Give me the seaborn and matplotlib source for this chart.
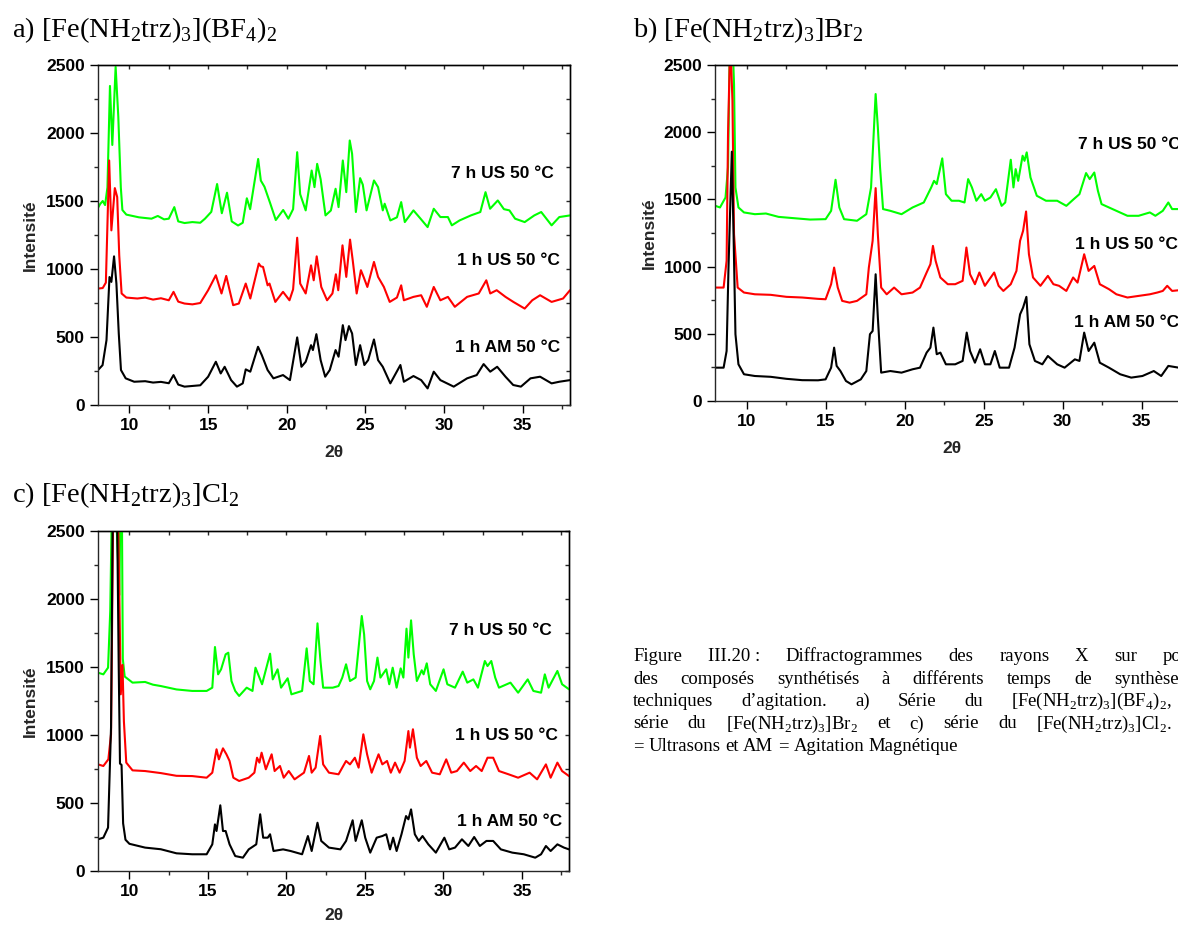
import numpy as np
import pandas as pd
import matplotlib
matplotlib.use("Agg")
import matplotlib.pyplot as plt
from matplotlib.ticker import MultipleLocator
import seaborn as sns

# ------------------------------
# DATA
# ------------------------------

series_names = ["7 h US 50 °C", "1 h US 50 °C", "1 h AM 50 °C"]
series_colors = ["#00ff00", "#ff0000", "#000000"]

# a) BF4
a_x_7h = [8.0, 8.15, 8.3, 8.45, 8.6, 8.76, 8.91, 9.12, 9.29, 9.45, 9.55, 9.8, 10.2, 10.6, 11.0, 11.4, 11.8, 12.2, 12.5,
          12.85, 13.1, 13.5, 14.0, 14.5, 14.8, 15.2, 15.57, 15.87, 16.2, 16.5, 16.9, 17.2, 17.46, 17.67, 18.18, 18.35,
          18.58, 18.94, 19.3, 19.77, 20.1, 20.4, 20.66, 20.85, 21.2, 21.58, 21.76, 21.93, 22.15, 22.46, 22.8, 23.1,
          23.29, 23.56, 23.78, 24.0, 24.15, 24.39, 24.66, 24.83, 25.07, 25.54, 25.8, 26.1, 26.22, 26.58, 27.0, 27.27,
          27.5, 28.05, 28.5, 28.95, 29.34, 29.76, 30.24, 30.49, 30.98, 31.7, 32.3, 32.63, 32.92, 33.41, 33.8, 34.15,
          34.51, 35.12, 35.73, 36.17, 36.83, 37.32, 38.0]
a_y_7h = [1450, 1480, 1500, 1470, 1600, 2346, 1912, 2487, 2120, 1600, 1434, 1400, 1390, 1380, 1375, 1370, 1390, 1365,
          1370, 1455, 1350, 1338, 1345, 1340, 1370, 1420, 1625, 1410, 1561, 1350, 1320, 1340, 1520, 1440, 1809, 1650,
          1605, 1485, 1360, 1434, 1370, 1440, 1859, 1550, 1431, 1724, 1602, 1773, 1660, 1394, 1430, 1590, 1455, 1798,
          1565, 1945, 1847, 1419, 1668, 1620, 1431, 1651, 1602, 1431, 1480, 1357, 1380, 1492, 1345, 1431, 1370, 1308,
          1443, 1382, 1382, 1321, 1357, 1394, 1419, 1565, 1443, 1504, 1440, 1431, 1370, 1345, 1394, 1419, 1321, 1382,
          1394]

a_x_1h = [8.0, 8.3, 8.5, 8.71, 8.85, 9.07, 9.22, 9.35, 9.5, 9.8, 10.5, 11.0, 11.5, 12.0, 12.5, 12.8, 13.1, 13.5, 14.0,
          14.5, 15.0, 15.49, 15.85, 16.15, 16.59, 16.95, 17.39, 17.68, 18.22, 18.34, 18.49, 18.78, 18.9, 19.27, 19.76,
          20.17, 20.4, 20.66, 20.85, 21.2, 21.54, 21.71, 21.9, 22.19, 22.56, 22.9, 23.12, 23.27, 23.54, 23.78, 24.02,
          24.19, 24.44, 24.71, 24.88, 25.12, 25.54, 25.8, 26.17, 26.54, 27.0, 27.27, 27.44, 28.05, 28.54, 28.9, 29.34,
          29.76, 30.24, 30.68, 31.46, 32.2, 32.68, 32.93, 33.34, 33.9, 34.4, 35.12, 35.6, 36.1, 36.83, 37.56, 38.0]
a_y_1h = [856, 860, 900, 1798, 1284, 1595, 1529, 1100, 820, 790, 783, 790, 775, 785, 770, 832, 760, 746, 740, 750, 844,
          954, 820, 949, 734, 746, 893, 783, 1040, 1020, 1015, 880, 893, 758, 832, 770, 850, 1230, 893, 820, 1027, 917,
          1093, 868, 770, 820, 961, 844, 1174, 942, 1216, 1064, 820, 991, 942, 868, 1052, 942, 868, 758, 790, 880, 770,
          795, 807, 722, 868, 770, 795, 722, 795, 820, 917, 820, 844, 795, 758, 709, 770, 807, 758, 783, 844]

a_x_am = [8.0, 8.29, 8.54, 8.73, 8.85, 9.02, 9.17, 9.32, 9.46, 9.76, 10.3, 11.0, 11.5, 12.0, 12.5, 12.8, 13.1, 13.5,
          14.0, 14.5, 15.0, 15.49, 15.8, 16.05, 16.46, 16.83, 17.2, 17.39, 17.68, 18.17, 18.41, 18.78, 19.15, 19.76,
          20.2, 20.66, 20.93, 21.2, 21.54, 21.66, 21.88, 22.15, 22.44, 22.73, 23.1, 23.29, 23.56, 23.73, 23.95, 24.15,
          24.39, 24.66, 24.93, 25.17, 25.54, 25.8, 26.1, 26.58, 27.22, 27.44, 28.05, 28.54, 28.95, 29.34, 29.76, 30.61,
          31.46, 32.07, 32.51, 32.93, 33.37, 33.9, 34.39, 34.88, 35.49, 36.1, 36.83, 37.32, 38.0]
a_y_am = [257, 293, 477, 941, 905, 1093, 893, 526, 257, 196, 171, 175, 165, 170, 160, 220, 150, 135, 140, 145, 208, 318,
          232, 281, 183, 135, 159, 262, 245, 428, 367, 257, 196, 220, 183, 497, 281, 318, 440, 404, 521, 330, 208, 257,
          404, 355, 587, 477, 580, 526, 294, 440, 294, 330, 482, 330, 281, 159, 294, 171, 213, 183, 122, 245, 183, 135,
          196, 220, 301, 245, 281, 208, 147, 135, 196, 208, 159, 171, 183]

# b) Br
b_x_7h = [8.0, 8.29, 8.64, 8.8, 8.92, 9.05, 9.18, 9.27, 9.46, 9.81, 10.5, 11.2, 12.0, 13.0, 14.0, 14.98, 15.33, 15.61,
          15.85, 16.15, 16.97, 17.56, 17.86, 18.15, 18.29, 18.43, 18.62, 19.08, 19.79, 20.49, 21.2, 21.67, 21.85, 22.02,
          22.37, 22.6, 22.96, 23.43, 23.78, 24.01, 24.25, 24.53, 24.84, 25.07, 25.42, 25.77, 26.13, 26.36, 26.71, 26.88,
          27.02, 27.18, 27.46, 27.58, 27.72, 27.96, 28.36, 28.94, 29.65, 30.23, 30.7, 31.06, 31.48, 31.71, 32.0, 32.23,
          32.46, 32.93, 33.4, 34.1, 34.81, 35.52, 35.87, 36.34, 36.69, 36.93, 37.35, 38.0]
b_y_7h = [1452, 1440, 1514, 1738, 2700, 2800, 2358, 1589, 1440, 1403, 1390, 1395, 1370, 1360, 1350, 1353, 1415, 1646,
          1440, 1353, 1341, 1390, 1589, 2284, 2036, 1738, 1428, 1415, 1390, 1440, 1477, 1589, 1638, 1614, 1805, 1539,
          1490, 1490, 1477, 1651, 1589, 1490, 1539, 1490, 1514, 1576, 1452, 1477, 1795, 1589, 1725, 1638, 1825, 1787,
          1850, 1663, 1527, 1490, 1490, 1452, 1502, 1539, 1696, 1651, 1700, 1564, 1465, 1440, 1415, 1378, 1378, 1403,
          1378, 1415, 1477, 1428, 1428, 1430]

b_x_1h = [8.0, 8.52, 8.71, 8.8, 8.94, 9.08, 9.18, 9.41, 9.81, 10.5, 11.5, 12.5, 13.5, 14.5, 14.98, 15.33, 15.52, 15.75,
          16.03, 16.5, 16.97, 17.56, 17.72, 17.96, 18.15, 18.29, 18.5, 18.85, 19.32, 19.79, 20.49, 20.96, 21.38, 21.62,
          21.78, 21.95, 22.25, 22.72, 23.19, 23.66, 23.9, 24.13, 24.44, 24.72, 25.07, 25.66, 25.94, 26.24, 26.71, 27.07,
          27.3, 27.49, 27.68, 27.86, 28.12, 28.59, 29.06, 29.41, 29.77, 30.23, 30.66, 30.94, 31.36, 31.64, 32.0, 32.35,
          32.93, 33.4, 34.1, 34.81, 35.52, 35.99, 36.34, 36.62, 36.93, 37.35, 38.0]
b_y_1h = [844, 844, 1043, 1986, 2700, 2234, 1241, 844, 807, 794, 790, 775, 770, 760, 757, 869, 993, 844, 745, 732, 745,
          794, 993, 1192, 1584, 1241, 844, 794, 844, 794, 807, 844, 956, 1018, 1154, 1043, 919, 869, 869, 894, 1142, 943,
          869, 956, 857, 956, 857, 819, 869, 968, 1192, 1266, 1410, 1092, 919, 857, 931, 869, 857, 819, 919, 881, 1092,
          968, 1005, 869, 832, 794, 770, 782, 794, 807, 819, 857, 819, 824, 820]

b_x_am = [8.0, 8.52, 8.71, 8.83, 9.04, 9.15, 9.27, 9.46, 9.81, 10.5, 11.5, 12.5, 13.5, 14.5, 14.98, 15.33, 15.52, 15.68,
          15.92, 16.27, 16.62, 17.21, 17.56, 17.79, 17.96, 18.15, 18.29, 18.5, 19.08, 19.79, 20.49, 20.96, 21.38, 21.62,
          21.81, 22.02, 22.25, 22.6, 23.19, 23.66, 23.92, 24.13, 24.44, 24.77, 25.07, 25.42, 25.7, 26.01, 26.6, 26.95,
          27.3, 27.49, 27.7, 27.89, 28.24, 28.71, 29.06, 29.65, 30.12, 30.77, 31.06, 31.36, 31.64, 32.0, 32.35, 32.93,
          33.64, 34.34, 35.05, 35.77, 36.24, 36.69, 37.35, 38.0]
b_y_am = [248, 248, 372, 993, 1855, 1241, 497, 273, 199, 186, 180, 165, 155, 154, 161, 248, 397, 261, 223, 149, 124,
          161, 223, 497, 521, 943, 621, 211, 223, 211, 236, 248, 360, 397, 546, 348, 360, 273, 273, 298, 509, 372, 285,
          385, 273, 273, 372, 248, 248, 397, 645, 695, 775, 422, 298, 273, 335, 273, 248, 310, 298, 509, 372, 434, 285,
          248, 199, 174, 186, 223, 186, 261, 248, 240]

# c) Cl
c_x_7h = [8.0, 8.34, 8.64, 8.78, 8.9, 9.1, 9.36, 9.44, 9.52, 9.58, 9.7, 10.2, 11.0, 11.5, 12.0, 13.0, 14.0, 14.92, 15.28,
          15.45, 15.65, 15.84, 16.13, 16.3, 16.5, 16.74, 16.99, 17.47, 17.84, 18.03, 18.2, 18.45, 18.96, 19.13, 19.44,
          19.66, 20.08, 20.32, 21.0, 21.29, 21.49, 21.73, 21.98, 22.17, 22.34, 22.95, 23.32, 23.56, 23.8, 24.05, 24.41,
          24.8, 24.95, 25.14, 25.34, 25.58, 25.8, 25.99, 26.36, 26.55, 26.77, 27.02, 27.28, 27.45, 27.65, 27.77, 27.94,
          28.11, 28.31, 28.62, 28.74, 28.94, 29.16, 29.52, 30.01, 30.25, 30.74, 31.23, 31.52, 31.91, 32.2, 32.64, 32.81,
          33.05, 33.3, 33.54, 34.27, 34.76, 35.37, 35.73, 36.22, 36.46, 36.7, 37.26, 37.56, 38.0]
c_y_7h = [1458, 1446, 1495, 1912, 2800, 2800, 2030, 2800, 2700, 1560, 1430, 1385, 1390, 1370, 1360, 1335, 1324, 1324,
          1348, 1647, 1446, 1483, 1593, 1605, 1397, 1324, 1287, 1348, 1324, 1495, 1446, 1373, 1598, 1409, 1483, 1348,
          1417, 1299, 1324, 1637, 1397, 1373, 1821, 1544, 1348, 1348, 1360, 1422, 1520, 1397, 1422, 1875, 1740, 1397,
          1336, 1397, 1569, 1422, 1483, 1373, 1495, 1348, 1490, 1422, 1782, 1569, 1843, 1593, 1397, 1476, 1446, 1527,
          1373, 1324, 1483, 1373, 1348, 1466, 1385, 1409, 1348, 1544, 1507, 1544, 1422, 1348, 1385, 1311, 1409, 1324,
          1311, 1446, 1348, 1471, 1373, 1336]

c_x_1h = [8.0, 8.34, 8.66, 8.83, 8.98, 9.25, 9.36, 9.45, 9.56, 9.65, 9.8, 10.2, 11.0, 12.0, 13.0, 14.0, 14.92, 15.28,
          15.55, 15.7, 15.96, 16.18, 16.38, 16.62, 16.99, 17.6, 17.96, 18.13, 18.28, 18.42, 18.69, 19.06, 19.25, 19.59,
          19.83, 20.15, 20.52, 21.12, 21.44, 21.61, 21.86, 22.15, 22.34, 22.71, 23.32, 23.8, 24.05, 24.36, 24.6, 24.9,
          25.14, 25.43, 25.87, 26.11, 26.41, 26.65, 26.92, 27.21, 27.53, 27.77, 27.87, 28.06, 28.31, 28.55, 28.91,
          29.28, 29.77, 30.18, 30.5, 30.86, 31.3, 31.71, 32.08, 32.44, 32.81, 33.17, 33.54, 34.15, 34.76, 35.49, 35.97,
          36.53, 36.83, 37.26, 37.56, 38.0]
c_y_1h = [784, 772, 821, 1005, 2800, 2800, 2030, 1299, 1515, 1100, 797, 740, 735, 720, 700, 698, 686, 723, 895, 821,
          902, 858, 809, 686, 662, 686, 723, 833, 797, 870, 748, 858, 735, 772, 686, 735, 674, 723, 846, 723, 760, 993,
          784, 723, 711, 809, 784, 833, 760, 1005, 858, 723, 858, 784, 809, 723, 797, 723, 809, 1029, 907, 1042, 833,
          772, 809, 723, 711, 821, 723, 735, 797, 735, 772, 735, 833, 833, 735, 711, 686, 723, 674, 784, 686, 797, 735,
          698]

c_x_am = [8.0, 8.34, 8.64, 8.83, 8.95, 9.2, 9.32, 9.4, 9.5, 9.6, 9.75, 10.0, 11.0, 12.0, 13.0, 14.0, 14.92, 15.28, 15.45,
          15.55, 15.79, 15.96, 16.13, 16.38, 16.74, 17.23, 17.6, 18.08, 18.33, 18.52, 18.81, 18.96, 19.18, 19.79, 20.27,
          21.0, 21.37, 21.61, 21.98, 22.22, 22.71, 23.44, 23.8, 24.22, 24.41, 24.8, 25.02, 25.34, 25.75, 26.11, 26.36,
          26.6, 26.8, 27.02, 27.33, 27.62, 27.77, 27.94, 28.18, 28.43, 28.67, 29.04, 29.52, 30.06, 30.37, 30.74, 31.18,
          31.59, 31.96, 32.32, 32.74, 33.17, 33.66, 34.39, 35.12, 35.85, 36.22, 36.53, 36.83, 37.26, 37.68, 38.0]
c_y_am = [233, 245, 319, 1054, 2800, 2800, 1500, 790, 780, 350, 230, 200, 172, 160, 130, 123, 123, 196, 343, 294, 483,
          294, 294, 196, 110, 98, 159, 196, 417, 245, 245, 270, 147, 159, 147, 123, 257, 147, 355, 221, 172, 159, 221,
          373, 221, 373, 245, 135, 245, 257, 270, 159, 245, 147, 270, 404, 380, 453, 270, 221, 257, 196, 135, 245, 159,
          172, 233, 184, 250, 184, 221, 221, 159, 135, 123, 98, 123, 184, 147, 196, 172, 159]

panel_titles = [r"a) [Fe(NH$_\mathregular{2}$trz)$_\mathregular{3}$](BF$_\mathregular{4}$)$_\mathregular{2}$",
                r"b) [Fe(NH$_\mathregular{2}$trz)$_\mathregular{3}$]Br$_\mathregular{2}$",
                r"c) [Fe(NH$_\mathregular{2}$trz)$_\mathregular{3}$]Cl$_\mathregular{2}$"]

# label anchors (data coords) for the three series in each panel
a_label_x = [36.99, 37.33, 37.36]
a_label_y = [1700, 1064, 424]
b_label_x = [31.0, 30.76, 30.71]
b_label_y = [1910, 1164, 582]
c_label_x = [36.88, 37.31, 37.56]
c_label_y = [1766, 1000, 364]

# justified caption, one entry per printed line (no-break space keeps "III.20 :" together)
caption_lines = [
    "Figure III.20\u00a0: Diffractogrammes des rayons X sur poudre",
    "des composés synthétisés à différents temps de synthèse et",
    r"techniques d’agitation. a) Série du [Fe(NH$_\mathregular{2}$trz)$_\mathregular{3}$](BF$_\mathregular{4}$)$_\mathregular{2}$, b)",
    r"série du [Fe(NH$_\mathregular{2}$trz)$_\mathregular{3}$]Br$_\mathregular{2}$ et c) série du [Fe(NH$_\mathregular{2}$trz)$_\mathregular{3}$]Cl$_\mathregular{2}$. US",
    "= Ultrasons et AM = Agitation Magnétique",
]

# ------------------------------
# STYLE
# ------------------------------

sns.set_style("ticks")
plt.rcParams["font.family"] = ["Liberation Sans", "DejaVu Sans"]
plt.rcParams["axes.linewidth"] = 1.0

W, H = 1178, 925
fig = plt.figure(figsize=(W / 100, H / 100), dpi=100)


def make_frame(xs, ys):
    parts = []
    for name, x, y in zip(series_names, xs, ys):
        parts.append(pd.DataFrame({"2θ": x, "Intensité": y, "serie": name}))
    return pd.concat(parts, ignore_index=True)


def draw_panel(rect, xs, ys, lab_x, lab_y, lab_ha, xlab_y, ylab_x):
    ax = fig.add_axes(rect)
    df = make_frame(xs, ys)
    sns.lineplot(data=df, x="2θ", y="Intensité", hue="serie",
                 hue_order=series_names,
                 palette=dict(zip(series_names, series_colors)),
                 estimator=None, sort=False, linewidth=1.5,
                 legend=False, ax=ax)

    ax.set_xlim(8, 38)
    ax.set_ylim(0, 2500)
    ax.xaxis.set_major_locator(MultipleLocator(5))
    ax.xaxis.set_minor_locator(MultipleLocator(2.5))
    ax.yaxis.set_major_locator(MultipleLocator(500))
    ax.yaxis.set_minor_locator(MultipleLocator(250))
    ax.set_xticks([10, 15, 20, 25, 30, 35])
    ax.tick_params(which="major", direction="out", length=5.5, width=1.0,
                   labelsize=12.5, pad=4, colors="black")
    ax.tick_params(which="minor", direction="out", length=3, width=1.0)
    for t in ax.get_xticklabels() + ax.get_yticklabels():
        t.set_fontweight("bold")

    for side in ["top", "right"]:
        ax.spines[side].set_visible(True)
        ax.spines[side].set_color("black")
    top = ax.secondary_xaxis("top")
    top.xaxis.set_major_locator(MultipleLocator(5))
    top.xaxis.set_minor_locator(MultipleLocator(2.5))
    top.tick_params(which="both", direction="in", length=3, width=1.0, labeltop=False)
    right = ax.secondary_yaxis("right")
    right.yaxis.set_major_locator(MultipleLocator(500))
    right.yaxis.set_minor_locator(MultipleLocator(250))
    right.tick_params(which="both", direction="in", length=3, width=1.0, labelright=False)

    ax.set_xlabel("2θ", fontsize=12.5, fontweight="bold")
    ax.set_ylabel("Intensité", fontsize=12.5, fontweight="bold")
    ax.xaxis.set_label_coords(0.5, xlab_y)
    ax.yaxis.set_label_coords(ylab_x, 0.5)

    for name, lx, ly in zip(series_names, lab_x, lab_y):
        ax.text(lx, ly, name, ha=lab_ha, va="center", fontsize=12.5,
                fontweight="bold", color="black")
    return ax


ax_a = draw_panel([98 / W, 1 - 405 / H, 472 / W, 340 / H],
                  [a_x_7h, a_x_1h, a_x_am], [a_y_7h, a_y_1h, a_y_am],
                  a_label_x, a_label_y, "right", -0.118, -0.127)
ax_b = draw_panel([715.4 / W, 1 - 401 / H, 473.6 / W, 336 / H],
                  [b_x_7h, b_x_1h, b_x_am], [b_y_7h, b_y_1h, b_y_am],
                  b_label_x, b_label_y, "left", -0.119, -0.123)
ax_c = draw_panel([98 / W, 1 - 871 / H, 471 / W, 340 / H],
                  [c_x_7h, c_x_1h, c_x_am], [c_y_7h, c_y_1h, c_y_am],
                  c_label_x, c_label_y, "right", -0.109, -0.127)

# ------------------------------
# TITLES AND CAPTION
# ------------------------------

serif = ["Liberation Serif", "DejaVu Serif"]
title_pos = [(12, 37), (633, 37), (12, 502)]
for txt, (px, py) in zip(panel_titles, title_pos):
    fig.text(px / W, 1 - py / H, txt, family=serif, fontsize=20.5,
             color="black", ha="left", va="baseline")

renderer = fig.canvas.get_renderer()
cap_x0, cap_x1 = 633, 1215
cap_size = 13.5
cap_base = [661, 683.5, 706, 728.5, 751]
for i, (line, py) in enumerate(zip(caption_lines, cap_base)):
    words = line.split(" ")
    texts = [fig.text(cap_x0 / W, 1 - py / H, w, family=serif, fontsize=cap_size,
                      color="black", ha="left", va="baseline") for w in words]
    widths = [t.get_window_extent(renderer).width for t in texts]
    if i < len(caption_lines) - 1:
        gap = (cap_x1 - cap_x0 - sum(widths)) / (len(words) - 1)
    else:
        gap = cap_size * 0.25 * 100 / 72
    pos = cap_x0
    for t, w in zip(texts, widths):
        t.set_x(pos / W)
        pos += w + gap

fig.savefig("out.png", dpi=100)
